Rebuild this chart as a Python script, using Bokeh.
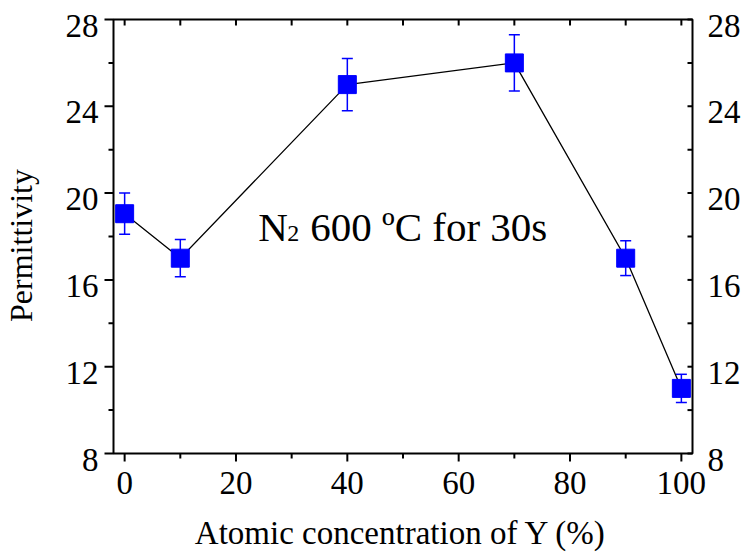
import numpy as np
from bokeh.plotting import figure
from bokeh.models import Range1d, ColumnDataSource, Whisker, TeeHead
from bokeh.core.properties import value
from bokeh.embed import file_html
from bokeh.resources import INLINE

# Data
y_conc = [0, 10, 40, 70, 90, 100]
permittivity = [19.05, 17.0, 25.0, 26.0, 17.0, 11.0]
perm_err = [0.95, 0.86, 1.2, 1.3, 0.8, 0.65]
x_ticks = [0, 20, 40, 60, 80, 100]
x_minor_ticks = [10, 30, 50, 70, 90]
x_tick_labels = ["0", "20", "40", "60", "80", "100"]
y_ticks = [8, 12, 16, 20, 24, 28]
y_minor_ticks = [10, 14, 18, 22, 26]
y_tick_labels = ["8", "12", "16", "20", "24", "28"]
x_label = "Atomic concentration of Y (%)"
y_label = "Permittivity"
x_min, x_max = -2, 102
y_min, y_max = 8, 28

FONT = "'Liberation Serif'"
BLUE = "#0000FF"

# layout (pixels)
W, H = 743, 553
box_l, box_r, box_t, box_b = 113, 692, 19, 453
sx = (box_r - box_l) / (x_max - x_min)
sy = (box_b - box_t) / (y_max - y_min)
xr = Range1d(x_min - box_l / sx, x_max + (W - box_r) / sx)
yr = Range1d(y_min - (H - box_b) / sy, y_max + box_t / sy)

src = ColumnDataSource(dict(
    x=y_conc, y=permittivity,
    upper=[v + e for v, e in zip(permittivity, perm_err)],
    lower=[v - e for v, e in zip(permittivity, perm_err)],
))

p = figure(width=W, height=H, x_range=xr, y_range=yr,
           output_backend="svg", toolbar_location=None,
           min_border=0, x_axis_location=None, y_axis_location=None)
p.grid.visible = False
p.outline_line_color = None
p.background_fill_color = "white"
p.border_fill_color = "white"

# plot box
p.quad(left=[x_min], right=[x_max], bottom=[y_min], top=[y_max],
       fill_color=None, line_color="black", line_width=2)

# ticks (screen-length rays)
n_x, n_xm = len(x_ticks), len(x_minor_ticks)
n_y, n_ym = len(y_ticks), len(y_minor_ticks)
down, left = -np.pi / 2, np.pi
tick = dict(length_units="screen", line_color="black", line_width=2)
# bottom: outward
p.ray(x=x_ticks, y=[y_min] * n_x, length=8, angle=down, **tick)
p.ray(x=x_minor_ticks, y=[y_min] * n_xm, length=5, angle=down, **tick)
# top: inward
p.ray(x=x_ticks, y=[y_max] * n_x, length=6, angle=down, **tick)
p.ray(x=x_minor_ticks, y=[y_max] * n_xm, length=6, angle=down, **tick)
# left: outward
p.ray(x=[x_min] * n_y, y=y_ticks, length=9, angle=left, **tick)
p.ray(x=[x_min] * n_ym, y=y_minor_ticks, length=5, angle=left, **tick)
# right: inward
p.ray(x=[x_max] * n_y, y=y_ticks, length=5, angle=left, **tick)
p.ray(x=[x_max] * n_ym, y=y_minor_ticks, length=5, angle=left, **tick)

# tick labels
lab = dict(text_font=value(FONT), text_font_size="33px", text_color="black",
           text_baseline="alphabetic")
p.text(x=x_ticks, y=[y_min] * n_x, text=x_tick_labels, text_align="center",
       y_offset=29, **lab)
p.text(x=[x_min] * n_y, y=y_ticks, text=y_tick_labels, text_align="right",
       x_offset=-15, y_offset=6, **lab)
p.text(x=[x_max] * n_y, y=y_ticks, text=y_tick_labels, text_align="left",
       x_offset=15, y_offset=6, **lab)

# axis titles
p.text(x=[(x_min + x_max) / 2], y=[y_min], text=[x_label], text_align="center",
       text_baseline="alphabetic", text_font=value(FONT), text_font_size="33px",
       text_color="black", y_offset=79, x_offset=-2)
p.text(x=[x_min], y=[(y_min + y_max) / 2], text=[y_label], text_align="center",
       text_baseline="alphabetic", angle=np.pi / 2, text_font=value(FONT),
       text_font_size="32px", text_color="black", x_offset=-93, y_offset=9)

# connecting line
p.line("x", "y", source=src, line_color="black", line_width=1.3)

# error bars
eb = Whisker(source=src, base="x", upper="upper", lower="lower", dimension="height",
             line_color=BLUE, line_width=1.5,
             upper_head=TeeHead(size=11, line_color=BLUE, line_width=1.5),
             lower_head=TeeHead(size=11, line_color=BLUE, line_width=1.5))
p.add_layout(eb)

# markers
p.scatter("x", "y", source=src, marker="square", size=18,
          fill_color=BLUE, line_color=BLUE)

# annotation: N2 600 ºC for 30s
ann_x = [24.0]
ann_y = [17.68]
p.text(x=ann_x, y=ann_y, text=["N"], text_font=value(FONT), text_font_size="41px",
       text_align="left", text_baseline="alphabetic", text_color="black",
       y_offset=-16)
p.text(x=ann_x, y=ann_y, text=["2"], text_font=value(FONT), text_font_size="24px",
       text_align="left", text_baseline="alphabetic", text_color="black",
       x_offset=29, y_offset=-10)
p.text(x=ann_x, y=ann_y, text=["600 \u00baC for 30s"], text_font=value(FONT),
       text_font_size="41px", text_align="left", text_baseline="alphabetic",
       text_color="black", x_offset=52, y_offset=-16)

open("out.html", "w").write(file_html(p, INLINE))
